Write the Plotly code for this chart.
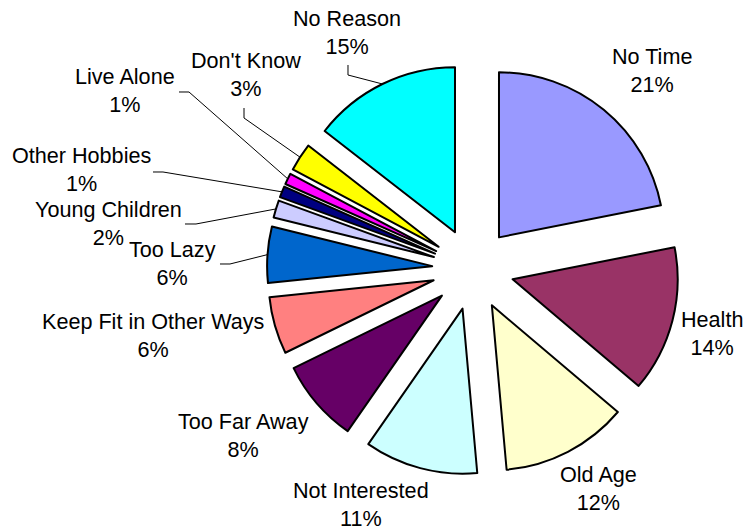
import math
import plotly.graph_objects as go

labels = ["No Time", "Health", "Old Age", "Not Interested", "Too Far Away",
          "Keep Fit in Other Ways", "Too Lazy", "Young Children", "Other Hobbies",
          "Live Alone", "Don't Know", "No Reason"]
# slice shares as drawn in the picture (percent)
shares = [21.9, 14.3, 12.4, 11.1, 8.1, 5.6, 5.5, 1.7, 1.1, 1.1, 2.75, 14.5]
# percentage texts printed on the chart
pct_labels = ["21%", "14%", "12%", "11%", "8%", "6%", "6%", "2%", "1%", "1%", "3%", "15%"]
colors = ["#9999FF", "#993366", "#FFFFCC", "#CCFFFF", "#660066", "#FF8080",
          "#0066CC", "#CCCCFF", "#000080", "#FF00FF", "#FFFF00", "#00FFFF"]

# ---- layout configuration (pixels in a 745x529 window) ----
W, H = 745, 529
PULL = 0.248
CX, CY = 473, 269            # pie centre (px)
HALF = 206                   # pie radius plus pull (px)
FONT = "Liberation Sans, Arial, sans-serif"
FS = 21.6

# label centres (px) for each category
label_pos = {
    "No Time": (652, 71), "Health": (712, 333), "Old Age": (598, 488),
    "Not Interested": (361, 504), "Too Far Away": (243, 435),
    "Keep Fit in Other Ways": (153, 335), "Too Lazy": (172, 263),
    "Young Children": (108, 223), "Other Hobbies": (81, 170),
    "Live Alone": (125, 91), "Don't Know": (246, 74), "No Reason": (347, 32),
}
# leader line start and elbow (px) for crowded labels
leaders = {
    "No Reason": [(348, 65), (348, 75)],
    "Don't Know": [(244, 108), (244, 118)],
    "Live Alone": [(179, 92), (189, 92)],
    "Other Hobbies": [(153, 172), (163, 172)],
    "Young Children": [(185, 224), (196, 224)],
    "Too Lazy": [(220, 264), (230, 264)],
}


def px(x):
    return x / W


def py(y):
    return 1 - y / H


dom_x = [px(CX - HALF), px(CX + HALF)]
dom_y = [py(CY + HALF), py(CY - HALF)]

fig = go.Figure(go.Pie(
    labels=labels,
    values=shares,
    sort=False,
    direction="clockwise",
    rotation=0,
    pull=PULL,
    marker=dict(colors=colors, line=dict(color="black", width=2)),
    textinfo="none",
    customdata=pct_labels,
    hovertemplate="%{label}: %{customdata}<extra></extra>",
    domain=dict(x=dom_x, y=dom_y),
))

total = sum(shares)
cum = 0
annotations = []
shapes = []
for lab, v, pct in zip(labels, shares, pct_labels):
    mid = (cum + v / 2) / total * 2 * math.pi
    cum += v
    lx, ly = label_pos[lab]
    annotations.append(dict(
        x=px(lx), y=py(ly), xref="paper", yref="paper",
        text=f"{lab}<br>{pct}", showarrow=False,
        xanchor="center", yanchor="middle", align="center",
        font=dict(family=FONT, size=FS, color="black"),
    ))
    if lab in leaders:
        ax = CX + HALF * math.sin(mid)
        ay = CY - HALF * math.cos(mid)
        pts = leaders[lab] + [(ax, ay)]
        path = "M " + " L ".join(f"{px(x):.5f},{py(y):.5f}" for x, y in pts)
        shapes.append(dict(type="path", path=path, xref="paper", yref="paper",
                           line=dict(color="black", width=1)))

fig.update_layout(
    width=W, height=H,
    margin=dict(l=0, r=0, t=0, b=0),
    paper_bgcolor="white",
    plot_bgcolor="white",
    showlegend=False,
    font=dict(family=FONT, color="black"),
    annotations=annotations,
    shapes=shapes,
)

fig.write_html("out.html",
               config={"displayModeBar": False},
               post_script="document.body.style.margin='0';"
                           "document.body.style.overflow='hidden';")
